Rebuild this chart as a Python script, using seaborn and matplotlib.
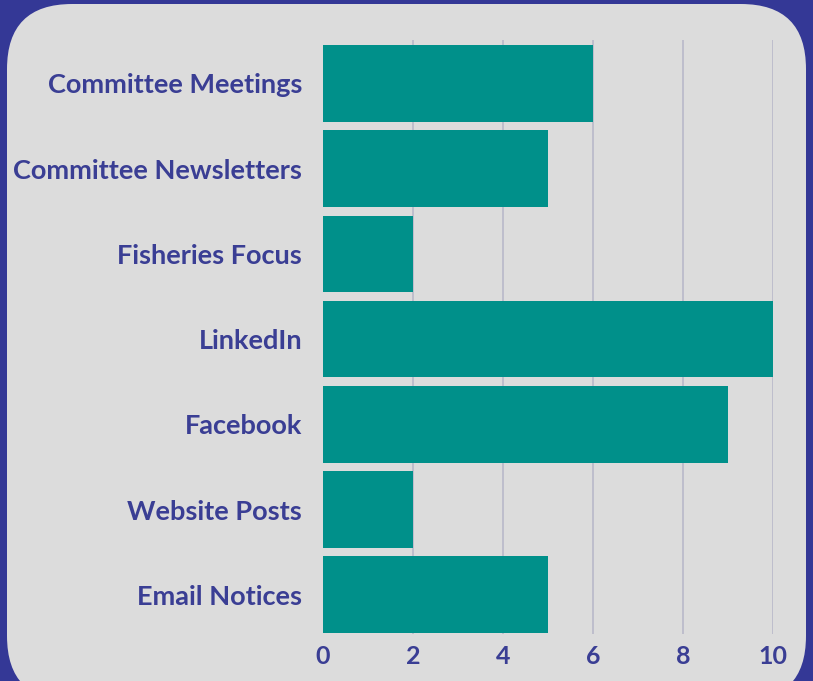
import matplotlib
matplotlib.use("Agg")
import matplotlib.pyplot as plt
import seaborn as sns
import pandas as pd
from matplotlib.patches import FancyBboxPatch

channels = ["Committee Meetings", "Committee Newsletters", "Fisheries Focus",
            "LinkedIn", "Facebook", "Website Posts", "Email Notices"]
counts = [6, 5, 2, 10, 9, 2, 5]
xticks = [0, 2, 4, 6, 8, 10]

border = "#343896"
panel = "#dcdcdc"
teal = "#00908a"
ink = "#3a3e94"

sns.set_theme(style="white")
plt.rcParams["font.family"] = ["Lato", "DejaVu Sans"]

df = pd.DataFrame({"channel": channels, "count": counts})

fig = plt.figure(figsize=(8.13, 6.81), dpi=100)
fig.patch.set_facecolor(border)
# rounded light panel behind the axes
fig.patches.append(FancyBboxPatch((7/813, -20/681), 799/813, 697/681,
                                  boxstyle="round,pad=0,rounding_size=0.08",
                                  transform=fig.transFigure, facecolor=panel,
                                  edgecolor="none", mutation_aspect=813/681,
                                  zorder=-10))

ax = fig.add_axes([323/813, 1-634/681, 450/813, 594/681])
ax.set_facecolor("none")
for x in xticks[1:]:
    ax.axvline(x, color="#b9b9c9", lw=1.2, zorder=0)
sns.barplot(data=df, x="count", y="channel", color=teal, width=0.9,
            saturation=1, edgecolor="none", linewidth=0, ax=ax, zorder=2)
ax.set_xlim(0, 10)
ax.set_ylim(6.46, -0.51)
ax.set_xticks(xticks)
ax.set_xlabel("")
ax.set_ylabel("")
sns.despine(ax=ax, left=True, bottom=True)
ax.tick_params(axis="y", length=0, pad=15, labelsize=19.5, labelcolor=ink)
ax.tick_params(axis="x", length=0, pad=8, labelsize=18, labelcolor=ink)
for lab in ax.get_xticklabels() + ax.get_yticklabels():
    lab.set_fontweight("bold")

plt.savefig("out.png", dpi=100, facecolor=fig.get_facecolor())
